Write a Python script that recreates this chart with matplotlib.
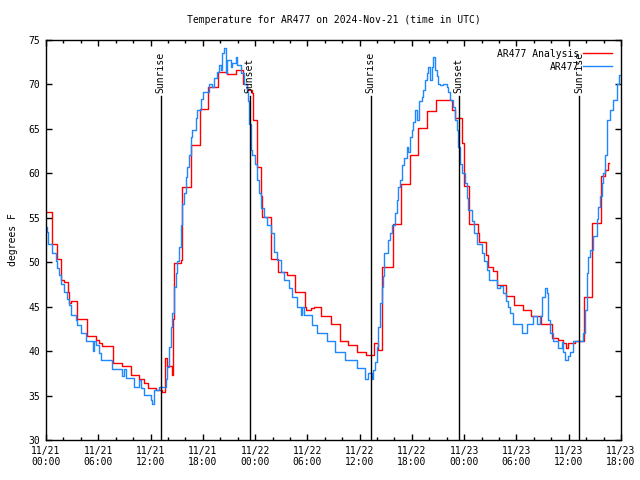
import matplotlib
matplotlib.use("Agg")
import matplotlib.pyplot as plt
import matplotlib.dates as mdates
from matplotlib.ticker import MultipleLocator
import numpy as np
import datetime as dt

# ---- data (hours since 2024-11-21 00:00 UTC, degrees F) ----
analysis_hours = [0.0, 0.73, 1.22, 1.3, 1.68, 1.76, 2.07, 2.52, 2.64, 2.91, 3.6, 4.67, 5.7, 6.08, 6.47,
                  7.69, 8.68, 9.79, 10.67, 11.25, 11.74, 12.59, 13.35, 13.62, 13.92, 14.5, 14.61, 14.73,
                  15.46, 15.65, 16.6, 17.67, 18.6, 19.74, 20.8, 21.77, 22.65, 23.1, 23.68, 23.8, 24.18,
                  24.71, 24.83, 25.78, 26.66, 27.62, 28.62, 29.69, 29.88, 30.38, 30.76, 31.52, 32.67,
                  33.75, 34.7, 35.74, 36.73, 37.65, 38.15, 38.6, 39.79, 40.75, 41.78, 42.74, 43.69,
                  44.73, 45.68, 46.6, 46.95, 47.79, 48.02, 48.59, 49.55, 49.74, 50.5, 50.77, 51.27,
                  51.73, 52.76, 53.76, 54.79, 55.67, 56.78, 58.04, 58.8, 59.38, 59.68, 59.95, 60.7,
                  61.75, 62.63, 63.66, 64.2, 64.47, 64.66]
analysis_temps = [55.7, 52.05, 51.3, 50.4, 49.1, 48.0, 47.8, 46.6, 45.4, 45.6, 43.6, 41.7, 41.25, 40.9, 40.6,
                  38.7, 38.3, 37.3, 36.9, 36.4, 35.8, 35.6, 35.4, 39.2, 38.3, 37.3, 43.6, 49.9,
                  50.25, 58.5, 63.15, 67.2, 69.75, 71.4, 71.2, 71.6, 70.1, 69.4, 69.0, 66.0, 60.75,
                  57.4, 55.1, 50.4, 48.9, 48.6, 46.6, 45.0, 44.6, 44.9, 45.0, 43.9, 43.0,
                  41.1, 40.7, 39.9, 39.6, 40.95, 40.1, 49.5, 54.3, 58.8, 62.1, 65.1, 67.05,
                  68.2, 68.3, 67.1, 66.2, 63.4, 58.6, 54.3, 53.25, 52.3, 50.8, 49.5, 49.05,
                  47.4, 46.2, 45.2, 44.6, 43.9, 43.1, 41.5, 41.25, 40.95, 40.3, 40.9, 41.1,
                  46.1, 54.4, 59.7, 60.4, 61.2, 61.2]

obs_hours = [0.0, 0.15, 0.23, 0.73, 1.11, 1.3, 1.49, 1.76, 2.07, 2.37, 2.64, 2.83, 3.4, 3.6, 3.98, 4.55,
             5.43, 5.51, 5.7, 6.08, 6.35, 7.61, 8.76, 8.95, 9.14, 10.1, 10.67, 10.86, 11.25, 12.01,
             12.2, 12.4, 12.97, 13.73, 13.93, 14.12, 14.31, 14.5, 14.69, 14.88, 15.07, 15.26, 15.46,
             15.65, 15.84, 16.03, 16.22, 16.41, 16.6, 16.79, 17.18, 17.37, 17.75, 18.06, 18.71, 19.09,
             19.28, 19.66, 19.85, 20.05, 20.24, 20.43, 20.62, 20.81, 21.19, 21.38, 21.77, 21.96, 22.34,
             22.72, 23.03, 23.18, 23.34, 23.49, 23.68, 23.95, 24.18, 24.45, 24.71, 25.02, 25.33, 25.78,
             26.17, 26.55, 26.93, 27.31, 27.89, 28.27, 28.84, 29.23, 29.42, 29.61, 30.57, 31.14, 32.21,
             33.17, 34.32, 35.66, 36.62, 37.0, 37.38, 37.5, 37.76, 37.96, 38.15, 38.34, 38.53, 38.64,
             38.8, 39.29, 39.49, 39.68, 40.06, 40.25, 40.44, 40.63, 40.82, 41.09, 41.4, 41.59, 41.78,
             41.97, 42.16, 42.36, 42.62, 42.85, 43.12, 43.31, 43.5, 43.69, 43.89, 44.08, 44.27, 44.46,
             44.65, 44.84, 45.03, 45.22, 45.61, 45.99, 46.18, 46.37, 46.68, 46.95, 47.14, 47.33, 47.52,
             47.71, 48.09, 48.28, 48.48, 48.86, 49.13, 49.43, 50.01, 50.27, 50.58, 50.89, 51.73, 52.11,
             52.49, 52.76, 53.07, 53.26, 53.64, 54.67, 55.17, 55.94, 56.32, 56.7, 56.89, 57.27, 57.47,
             57.66, 57.85, 58.16, 58.8, 59.19, 59.38, 59.57, 59.95, 60.14, 60.53, 61.67, 61.87, 62.06,
             62.25, 62.44, 62.82, 63.2, 63.4, 63.59, 63.78, 63.97, 64.16, 64.35, 64.74, 65.12, 65.5,
             65.81, 66.0]
obs_temps = [54.0, 53.4, 52.1, 51.0, 50.1, 49.3, 48.6, 47.6, 46.7, 45.9, 45.2, 44.1, 43.5, 42.9, 42.0, 41.1,
             40.0, 41.1, 40.7, 39.75, 39.0, 38.0, 37.2, 38.0, 37.0, 36.0, 36.8, 35.8, 35.1, 34.5,
             34.1, 35.6, 36.0, 36.9, 38.25, 40.5, 42.75, 44.25, 47.25, 48.75, 50.1, 51.75, 54.2,
             56.6, 57.75, 59.6, 60.75, 62.1, 64.1, 64.9, 66.2, 67.1, 68.4, 69.1, 70.1, 69.7,
             70.7, 71.4, 72.2, 71.6, 73.5, 74.1, 71.25, 72.75, 72.0, 72.4, 73.1, 72.2, 71.25,
             70.1, 69.2, 68.1, 65.6, 62.6, 62.1, 61.1, 59.25, 57.75, 56.1, 55.1, 54.2, 53.25,
             51.2, 50.25, 48.9, 48.0, 47.1, 46.1, 45.0, 44.1, 45.0, 44.1, 42.9, 42.0, 41.1,
             39.9, 39.0, 38.1, 36.9, 37.5, 36.9, 37.9, 38.8, 40.5, 42.75, 45.4, 47.25, 48.4,
             51.0, 52.5, 53.25, 54.2, 55.5, 57.0, 58.5, 59.25, 60.9, 61.7, 63.0, 62.4, 64.1,
             64.9, 65.8, 67.1, 66.0, 68.1, 68.6, 69.4, 70.5, 71.25, 72.0, 70.5, 72.0, 73.1,
             71.6, 70.9, 70.1, 69.9, 70.1, 69.75, 69.2, 68.25, 67.5, 66.0, 64.9, 63.0, 61.1,
             60.0, 58.9, 57.2, 55.9, 54.6, 53.25, 52.1, 51.0, 50.1, 49.1, 48.0, 47.1, 47.3,
             46.5, 45.6, 45.0, 44.25, 43.1, 42.0, 43.1, 43.9, 43.1, 43.9, 46.1, 47.1, 46.5,
             43.5, 42.0, 41.1, 40.3, 41.0, 39.9, 39.0, 39.5, 39.9, 41.1, 42.0, 44.6, 48.75,
             50.6, 51.4, 52.9, 54.9, 56.25, 57.4, 58.9, 60.0, 62.1, 66.0, 67.1, 68.25, 70.1,
             71.1, 71.1]

sun_event_hours = [13.15, 23.36, 37.25, 47.35, 61.18]
sun_event_labels = ["Sunrise", "Sunset", "Sunrise", "Sunset", "Sunrise"]

series_labels = ["AR477 Analysis", "AR477"]
title_text = "Temperature for AR477 on 2024-Nov-21 (time in UTC)"
ylabel_text = "degrees F"

# ---- plotting ----
start = dt.datetime(2024, 11, 21, 0, 0)
def to_dt(hours):
    return [start + dt.timedelta(hours=h) for h in hours]

plt.rcParams['font.family'] = ['DejaVu Sans Mono']
FS = 7

fig = plt.figure(figsize=(6.4, 4.8), dpi=100)
ax = fig.add_axes([46/640, 40/480, 575/640, 400/480])

ax.plot(to_dt(analysis_hours), analysis_temps, drawstyle='steps-post', color='#ff0000', lw=1.0,
        label=series_labels[0])
ax.plot(to_dt(obs_hours), obs_temps, drawstyle='steps-post', color='#1e88ff', lw=1.0,
        label=series_labels[1])

for h, lab in zip(sun_event_hours, sun_event_labels):
    t = start + dt.timedelta(hours=h)
    ax.plot([t, t], [30, 68.7], color='black', lw=1.0)
    ax.text(t, 69.0, lab, rotation=90, ha='center', va='bottom', fontsize=FS)

ax.set_xlim(start, start + dt.timedelta(hours=66))
ax.set_ylim(30, 75)
ax.yaxis.set_major_locator(MultipleLocator(5))
ax.xaxis.set_major_locator(mdates.HourLocator(byhour=[0, 6, 12, 18]))
ax.xaxis.set_minor_locator(mdates.HourLocator(interval=2))
ax.xaxis.set_major_formatter(mdates.DateFormatter('%m/%d\n%H:%M'))

ax.tick_params(axis='both', which='major', direction='in', length=4, width=1,
               top=True, right=True, labelsize=FS, pad=4)
ax.tick_params(axis='x', which='minor', direction='in', length=2.2, width=1, top=True)
for sp in ax.spines.values():
    sp.set_linewidth(1.0)

ax.set_title(title_text, fontsize=FS, pad=12)
ax.set_ylabel(ylabel_text, fontsize=FS, labelpad=8)

leg = ax.legend(loc='upper right', frameon=False, markerfirst=False, fontsize=FS,
                handlelength=3.0, handletextpad=0.4, borderaxespad=0.5, labelspacing=0.3)

fig.savefig('out.png', dpi=100)
